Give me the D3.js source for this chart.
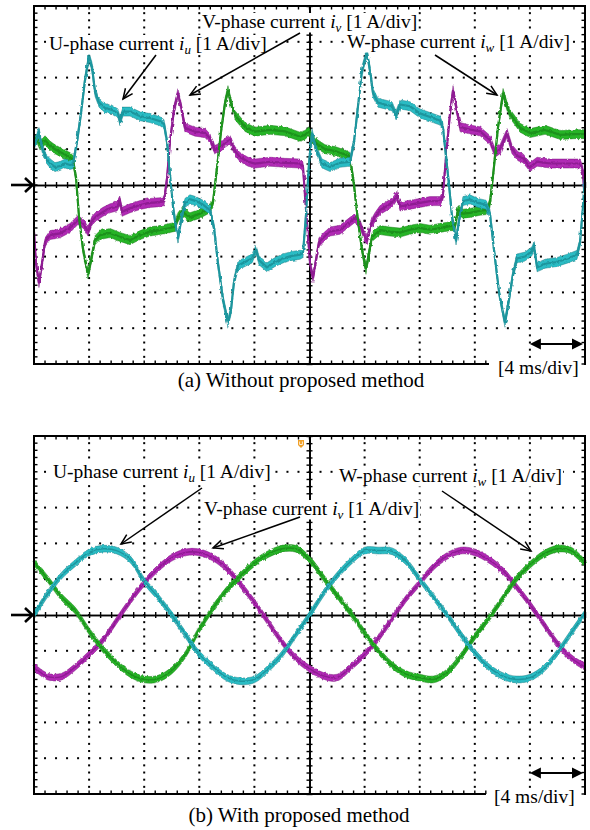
<!DOCTYPE html>
<html><head><meta charset="utf-8">
<script src="https://cdn.jsdelivr.net/npm/d3@7"></script>
<style>body{margin:0;background:#fff}svg{display:block}</style>
</head><body>
<svg id="c" width="590" height="830"></svg>
<script>
// ---------- DATA (time in ms, current in A) ----------
// Panel (a): without proposed method  [t, i]
const iuA = [[0,1.1],[0.22,1.35],[0.36,1.48],[0.58,1.05],[0.87,0.75],[1.16,0.61],[1.52,0.5],[1.89,0.53],[2.25,0.6],[2.61,0.56],[2.83,0.58],[3.12,1.2],[3.41,2.0],[3.7,2.93],[3.99,3.58],[4.21,3.3],[4.43,2.6],[4.72,2.3],[5.15,2.15],[5.66,2.1],[6.1,2.0],[6.24,1.78],[6.46,2.05],[6.97,2.05],[7.7,1.92],[8.42,1.87],[9.15,1.78],[9.44,1.7],[9.66,1.2],[9.87,0.3],[10.09,-0.6],[10.31,-1.2],[10.45,-1.5],[10.67,-1.0],[10.96,-0.5],[11.32,-0.4],[11.76,-0.45],[12.27,-0.55],[12.78,-0.7],[13.07,-1.2],[13.36,-2.2],[13.72,-3.2],[14.08,-3.85],[14.3,-3.5],[14.52,-2.7],[14.81,-2.25],[15.32,-2.15],[15.83,-2.05],[16.12,-1.8],[16.33,-2.1],[16.91,-2.3],[17.5,-2.15],[18.08,-2.05],[18.73,-1.98],[19.31,-1.95],[19.53,-1.9],[19.75,-0.8],[19.96,0.6],[20.18,1.45],[20.47,1.0],[20.91,0.6],[21.49,0.5],[22.21,0.62],[22.94,0.65],[23.23,1.2],[23.52,2.2],[23.81,3.2],[24.17,3.7],[24.39,3.2],[24.61,2.57],[24.97,2.3],[25.48,2.25],[25.99,2.2],[26.28,1.95],[26.57,2.25],[27.3,2.2],[28.02,2.0],[28.75,1.9],[29.47,1.8],[29.69,1.6],[29.91,0.8],[30.13,0.0],[30.35,-0.9],[30.64,-1.55],[30.85,-1.0],[31.14,-0.45],[31.65,-0.4],[32.23,-0.5],[32.81,-0.55],[33.1,-0.8],[33.39,-1.8],[33.76,-3.0],[34.19,-3.85],[34.48,-3.2],[34.77,-2.5],[35.06,-2.05],[35.64,-2.0],[36.15,-1.85],[36.3,-1.7],[36.52,-2.3],[37.1,-2.2],[37.97,-2.15],[38.77,-2.05],[39.42,-1.95],[39.64,-1.6],[39.85,-0.6],[40,0.2]];
const ivA = [[0,-1.3],[0.15,-2.2],[0.36,-2.74],[0.58,-2.2],[0.8,-1.6],[1.16,-1.4],[1.89,-1.35],[2.61,-1.2],[3.19,-0.98],[3.63,-1.1],[3.92,-1.3],[4.21,-1.0],[4.5,-0.88],[5.01,-0.75],[5.52,-0.65],[6.03,-0.6],[6.24,-0.45],[6.39,-0.75],[6.97,-0.65],[7.7,-0.56],[8.42,-0.5],[9.15,-0.48],[9.44,-0.45],[9.66,0.2],[9.87,1.2],[10.16,2.1],[10.45,2.57],[10.67,2.2],[10.96,1.6],[11.69,1.49],[12.41,1.45],[12.78,1.3],[13.14,0.98],[13.5,1.05],[13.94,1.2],[14.23,1.26],[14.59,0.95],[14.95,0.78],[15.54,0.65],[16.04,0.6],[17.13,0.65],[18.22,0.62],[19.31,0.6],[19.53,0.5],[19.67,-0.3],[19.89,-1.4],[20.04,-2.2],[20.25,-2.6],[20.47,-2.1],[20.69,-1.6],[20.98,-1.48],[21.49,-1.3],[22.21,-1.25],[22.94,-1.03],[23.3,-0.92],[23.67,-1.1],[23.96,-1.4],[24.17,-1.54],[24.46,-1.1],[24.75,-0.9],[25.12,-0.7],[25.55,-0.6],[26.06,-0.47],[26.35,-0.3],[26.57,-0.6],[27.3,-0.55],[28.02,-0.5],[28.75,-0.45],[29.47,-0.45],[29.69,-0.3],[29.91,0.8],[30.2,2.0],[30.42,2.65],[30.64,2.2],[30.93,1.62],[31.65,1.55],[32.38,1.5],[33.1,1.26],[33.47,0.9],[33.83,1.0],[34.34,1.45],[34.7,1.0],[35.14,0.8],[35.5,0.75],[36.01,0.5],[36.52,0.65],[37.46,0.6],[38.19,0.6],[39.27,0.6],[39.64,0.6],[39.85,0.4],[40,-0.6]];
const iwA = [[0,1.2],[0.22,1.3],[0.44,1.1],[0.8,1.25],[1.16,1.1],[1.52,1.0],[1.89,0.92],[2.25,0.85],[2.61,0.78],[2.83,0.7],[3.05,0.2],[3.27,-0.9],[3.56,-1.8],[3.92,-2.5],[4.14,-2.1],[4.43,-1.54],[4.79,-1.4],[5.52,-1.34],[6.24,-1.45],[6.97,-1.54],[7.7,-1.4],[8.42,-1.3],[9.15,-1.26],[9.87,-1.2],[10.24,-1.17],[10.45,-0.9],[10.74,-0.75],[11.32,-0.9],[12.05,-0.8],[12.78,-0.65],[12.99,-0.5],[13.29,0.5],[13.58,1.5],[13.87,2.3],[14.08,2.65],[14.3,2.3],[14.59,1.95],[15.32,1.62],[16.04,1.49],[17.13,1.54],[18.22,1.5],[19.31,1.35],[19.67,1.4],[19.96,1.5],[20.18,1.3],[20.54,1.15],[21.13,1.0],[21.85,0.95],[22.58,0.85],[22.94,0.78],[23.23,0.0],[23.52,-1.0],[23.81,-1.8],[24.1,-2.37],[24.32,-1.9],[24.54,-1.45],[25.12,-1.26],[25.84,-1.3],[26.57,-1.33],[27.3,-1.25],[28.02,-1.2],[28.75,-1.25],[29.47,-1.2],[30.2,-1.15],[30.56,-1.15],[30.78,-0.7],[31.14,-0.8],[31.65,-0.78],[32.38,-0.72],[32.89,-0.7],[33.1,-0.5],[33.39,0.5],[33.68,1.6],[34.05,2.57],[34.34,2.2],[34.55,2.0],[34.92,1.8],[35.28,1.6],[36.01,1.45],[37.1,1.54],[38.19,1.4],[39.27,1.42],[40,1.42]];

// Panel (b): with proposed method, sampled every 1 ms
const timeB = [0,1,2,3,4,5,6,7,8,9,10,11,12,13,14,15,16,17,18,19,20,21,22,23,24,25,26,27,28,29,30,31,32,33,34,35,36,37,38,39,40];
const iuB = [0.0,0.6,1.1,1.45,1.75,1.85,1.8,1.55,0.95,0.5,0.0,-0.55,-1.1,-1.45,-1.75,-1.85,-1.8,-1.5,-1.1,-0.55,0.0,0.6,1.1,1.5,1.8,1.8,1.78,1.5,1.0,0.5,0.0,-0.55,-1.05,-1.45,-1.7,-1.8,-1.75,-1.5,-1.05,-0.5,0.05];
const ivB = [-1.45,-1.72,-1.72,-1.45,-1.1,-0.7,-0.15,0.4,0.9,1.3,1.6,1.75,1.75,1.6,1.3,0.85,0.35,-0.2,-0.75,-1.2,-1.5,-1.7,-1.75,-1.45,-1.1,-0.65,-0.1,0.45,0.9,1.35,1.65,1.8,1.75,1.55,1.25,0.8,0.3,-0.25,-0.8,-1.2,-1.45];
const iwB = [1.47,1.0,0.5,0.12,-0.45,-0.95,-1.35,-1.65,-1.8,-1.78,-1.55,-1.1,-0.4,0.2,0.7,1.1,1.45,1.7,1.85,1.85,1.55,1.05,0.55,0.05,-0.5,-1.0,-1.4,-1.65,-1.75,-1.8,-1.6,-1.15,-0.6,-0.1,0.45,1.0,1.4,1.7,1.85,1.8,1.45];

// Axis definitions
const timeDomain = [0, 40];      // 10 div x 4 ms/div
const currentDomain = [-5, 5];   // 10 div x 1 A/div
const majorT = [0,4,8,12,16,20,24,28,32,36,40];
const majorI = [-5,-4,-3,-2,-1,0,1,2,3,4,5];

const captionA = '(a) Without proposed method';
const captionB = '(b) With proposed method';
const scaleLabel = '[4 ms/div]';

// ---------- DRAW ----------
const svg = d3.select('#c');
const FONT = "'Liberation Serif', Tinos, 'Times New Roman', Times, 'DejaVu Serif', serif";
const FS = 19.5, FSC = 21;
const COL = {
  u: {fill:'#2cbcc4', dark:'#127078'},
  v: {fill:'#b02ab4', dark:'#6e0e72'},
  w: {fill:'#28b428', dark:'#107010'}
};

// subtle trace texture (oscilloscope noise look)
const defs = svg.append('defs');
const f = defs.append('filter').attr('id', 'jit').attr('x', '-2%').attr('y', '-5%').attr('width', '104%').attr('height', '110%');
f.append('feTurbulence').attr('type', 'fractalNoise').attr('baseFrequency', '0.45 0.25').attr('numOctaves', 1).attr('seed', 3).attr('result', 'n');
f.append('feDisplacementMap').attr('in', 'SourceGraphic').attr('in2', 'n').attr('scale', 3.2).attr('xChannelSelector', 'R').attr('yChannelSelector', 'G');

function panel(cfg) {
  const g = svg.append('g');
  const x = d3.scaleLinear().domain(timeDomain).range([cfg.left, cfg.right]);
  const y = d3.scaleLinear().domain(currentDomain).range([cfg.bottom, cfg.top]);
  const minorT = d3.range(0, 40.001, 0.8);
  const minorI = d3.range(-5, 5.001, 0.2);

  // dotted grid
  const grid = g.append('g').attr('fill', '#000');
  majorT.slice(1, -1).filter(t => t !== 20).forEach(t => {
    minorI.slice(1, -1).forEach(v => {
      grid.append('rect').attr('x', x(t) - 1).attr('y', y(v) - 1).attr('width', 2).attr('height', 2);
    });
  });
  majorI.slice(1, -1).filter(v => v !== 0).forEach(v => {
    minorT.slice(1, -1).forEach(t => {
      grid.append('rect').attr('x', x(t) - 1).attr('y', y(v) - 1).attr('width', 2).attr('height', 2);
    });
  });

  // center cross with ticks (via d3 axes)
  const axes = [
    g.append('g').attr('transform', `translate(0,${y(0)})`).call(d3.axisBottom(x).tickValues(minorT).tickSize(3).tickSizeOuter(0).tickFormat('')),
    g.append('g').attr('transform', `translate(0,${y(0)})`).call(d3.axisTop(x).tickValues(minorT).tickSize(3).tickSizeOuter(0).tickFormat('')),
    g.append('g').attr('transform', `translate(${x(20)},0)`).call(d3.axisLeft(y).tickValues(minorI).tickSize(3).tickSizeOuter(0).tickFormat('')),
    g.append('g').attr('transform', `translate(${x(20)},0)`).call(d3.axisRight(y).tickValues(minorI).tickSize(3).tickSizeOuter(0).tickFormat(''))
  ];
  axes.forEach(a => {
    a.selectAll('text').remove();
    a.selectAll('path').attr('stroke', '#000').attr('stroke-width', 1.7);
    a.selectAll('line').attr('stroke', '#000').attr('stroke-width', 1.4);
  });

  // border ticks (inward)
  const bt = g.append('g').attr('stroke', '#000').attr('stroke-width', 1.4);
  minorT.forEach(t => {
    bt.append('line').attr('x1', x(t)).attr('x2', x(t)).attr('y1', y(5)).attr('y2', y(5) + 3.5);
    if (x(t) < cfg.labelCut) bt.append('line').attr('x1', x(t)).attr('x2', x(t)).attr('y1', y(-5)).attr('y2', y(-5) - 3.5);
  });
  minorI.forEach(v => {
    bt.append('line').attr('x1', x(0)).attr('x2', x(0) + 3.5).attr('y1', y(v)).attr('y2', y(v));
    bt.append('line').attr('x1', x(40)).attr('x2', x(40) - 3.5).attr('y1', y(v)).attr('y2', y(v));
  });

  // traces
  const traces = g.append('g');
  cfg.series.forEach(s => {
    const c = COL[s.key];
    const area = d3.area().x(d => x(d[0])).y0(d => y(d[1]) - cfg.band).y1(d => y(d[1]) + cfg.band).curve(cfg.curve);
    const line = d3.line().x(d => x(d[0])).y(d => y(d[1])).curve(cfg.curve);
    const tg = traces.append('g').attr('filter', 'url(#jit)');
    tg.append('path').attr('d', area(s.data)).attr('fill', c.fill).attr('stroke', c.dark).attr('stroke-width', 0.7).attr('stroke-opacity', 0.6);
    tg.append('path').attr('d', line(s.data)).attr('fill', 'none').attr('stroke', c.fill).attr('stroke-width', 2);
    tg.append('path').attr('d', line(s.data)).attr('fill', 'none').attr('stroke', c.dark).attr('stroke-width', cfg.core).attr('stroke-opacity', 0.5);
  });

  // border
  g.append('path').attr('stroke', '#000').attr('stroke-width', 2).attr('fill', 'none')
    .attr('d', `M${cfg.labelCut},${y(-5)} L${x(0)},${y(-5)} L${x(0)},${y(5)} L${x(40)},${y(5)} L${x(40)},${y(-5) + 1}`);

  // zero marker arrow on the left
  const zy = y(0);
  const ma = g.append('g').attr('stroke', '#000').attr('stroke-width', 2.6).attr('fill', 'none');
  ma.append('line').attr('x1', 11).attr('x2', x(0) - 1).attr('y1', zy).attr('y2', zy);
  ma.append('path').attr('d', `M${x(0) - 9},${zy - 7} L${x(0) - 1.5},${zy} L${x(0) - 9},${zy + 7}`);

  // time scale arrow
  const ay0 = cfg.scaleArrowY;
  g.append('line').attr('x1', x(36) + 6).attr('x2', x(40) - 6).attr('y1', ay0).attr('y2', ay0).attr('stroke', '#000').attr('stroke-width', 2);
  g.append('path').attr('d', `M${x(36)},${ay0} l11,-5.5 l0,11 z`).attr('fill', '#000');
  g.append('path').attr('d', `M${x(40) - 2},${ay0} l-11,-5.5 l0,11 z`).attr('fill', '#000');

  // scale label
  g.append('text').attr('x', cfg.scaleLabelX).attr('y', cfg.scaleLabelY)
    .attr('font-family', FONT).attr('font-size', FS).attr('fill', '#000').text(scaleLabel);

  // annotations
  cfg.notes.forEach(n => {
    const t = g.append('text').attr('x', n.x).attr('y', n.y).attr('font-family', FONT).attr('font-size', FS).attr('fill', '#000');
    t.append('tspan').text(n.phase + '-phase current ');
    t.append('tspan').attr('font-style', 'italic').text('i');
    t.append('tspan').attr('font-style', 'italic').attr('font-size', 13).attr('dy', 3.5).text(n.sub);
    t.append('tspan').attr('dy', -3.5).text(' [1 A/div]');
    const bb = t.node().getBBox();
    g.insert('rect', () => t.node()).attr('x', bb.x - 1).attr('y', bb.y + 2).attr('width', bb.width + 2).attr('height', bb.height - 4).attr('fill', '#fff');
    const [x1, y1, x2, y2] = n.arrow;
    const ang = Math.atan2(y2 - y1, x2 - x1);
    const L = 11, sp = 0.42;
    const ag = g.append('g').attr('stroke', '#000').attr('stroke-width', 1.5).attr('fill', 'none');
    ag.append('line').attr('x1', x1).attr('y1', y1).attr('x2', x2).attr('y2', y2);
    ag.append('path').attr('d', `M${x2 - L * Math.cos(ang - sp)},${y2 - L * Math.sin(ang - sp)} L${x2},${y2} L${x2 - L * Math.cos(ang + sp)},${y2 - L * Math.sin(ang + sp)}`);
  });

  // caption
  g.append('text').attr('x', cfg.captionX).attr('y', cfg.captionY).attr('text-anchor', 'middle')
    .attr('font-family', FONT).attr('font-size', FSC).attr('fill', '#000').text(cfg.caption);

  return {x, y, g};
}

const toPairs = (ts, vs) => ts.map((t, i) => [t, vs[i]]);

panel({
  left: 34, right: 585, top: 6, bottom: 364, band: 4.5, core: 2.2, curve: d3.curveLinear,
  labelCut: 489, scaleArrowY: 344, scaleLabelX: 498, scaleLabelY: 374,
  caption: captionA, captionX: 301, captionY: 387,
  series: [{key:'v', data: ivA}, {key:'w', data: iwA}, {key:'u', data: iuA}],
  notes: [
    {phase:'U', sub:'u', x:49, y:50, arrow:[156,55,123,99]},
    {phase:'V', sub:'v', x:202, y:28, arrow:[300,33,190,95]},
    {phase:'W', sub:'w', x:347, y:48, arrow:[435,55,497,95]}
  ]
});

const pb = panel({
  left: 34, right: 585, top: 436, bottom: 794, band: 3.4, core: 1.4, curve: d3.curveCatmullRom,
  labelCut: 486, scaleArrowY: 773, scaleLabelX: 494, scaleLabelY: 803,
  caption: captionB, captionX: 299, captionY: 822,
  series: [{key:'v', data: toPairs(timeB, ivB)}, {key:'w', data: toPairs(timeB, iwB)}, {key:'u', data: toPairs(timeB, iuB)}],
  notes: [
    {phase:'U', sub:'u', x:53, y:478, arrow:[202,488,121,544]},
    {phase:'V', sub:'v', x:204, y:515, arrow:[300,517,213,548]},
    {phase:'W', sub:'w', x:339, y:482, arrow:[442,491,531,551]}
  ]
});

// trigger marker (orange) on top of panel (b)
pb.g.append('path').attr('d', 'M298,440 h6 v5 l-3,3 l-3,-3 z').attr('fill', '#f0a028');
pb.g.append('path').attr('d', 'M299.6,441.5 v3 h2.8 v-3').attr('fill', 'none').attr('stroke', '#fff').attr('stroke-width', 0.8);
</script>
</body></html>
